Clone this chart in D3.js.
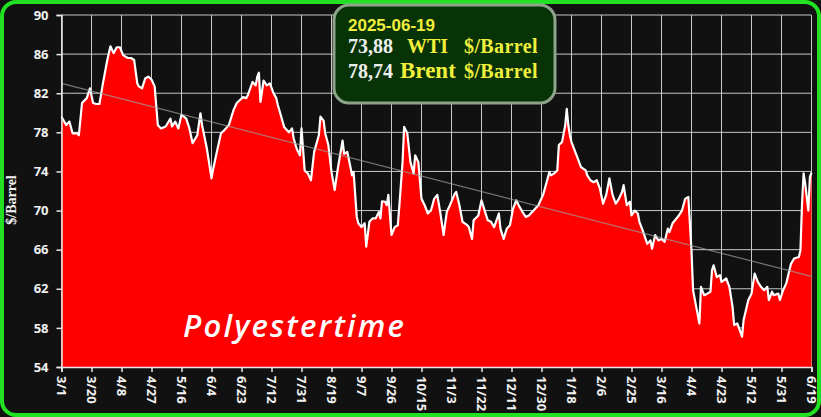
<!DOCTYPE html>
<html>
<head>
<meta charset="utf-8">
<script src="https://cdn.jsdelivr.net/npm/d3@7"></script>
<style>
  body { margin: 0; background: #111; }
  svg { display: block; }
</style>
</head>
<body>
<div id="chart"></div>
<script>
// WTI crude, $/barrel
var dates = [
  "2024-03-01","2024-03-04","2024-03-06","2024-03-08","2024-03-11","2024-03-12","2024-03-14","2024-03-17","2024-03-19","2024-03-21",
  "2024-03-23","2024-03-25","2024-03-26","2024-03-27","2024-03-30","2024-04-01","2024-04-03","2024-04-05","2024-04-07","2024-04-09",
  "2024-04-10","2024-04-12","2024-04-14","2024-04-16","2024-04-18","2024-04-19","2024-04-21","2024-04-23","2024-04-25","2024-04-27",
  "2024-04-29","2024-05-01","2024-05-03","2024-05-06","2024-05-09","2024-05-10","2024-05-12","2024-05-14","2024-05-16","2024-05-19",
  "2024-05-21","2024-05-23","2024-05-26","2024-05-28","2024-05-29","2024-06-01","2024-06-04","2024-06-05","2024-06-07","2024-06-10",
  "2024-06-12","2024-06-15","2024-06-18","2024-06-20","2024-06-22","2024-06-24","2024-06-26","2024-06-27","2024-06-30","2024-07-02",
  "2024-07-03","2024-07-04","2024-07-05","2024-07-07","2024-07-09","2024-07-11","2024-07-13","2024-07-15","2024-07-16","2024-07-18",
  "2024-07-20","2024-07-23","2024-07-25","2024-07-26","2024-07-28","2024-07-30","2024-07-31","2024-08-02","2024-08-04","2024-08-06",
  "2024-08-08","2024-08-11","2024-08-12","2024-08-14","2024-08-15","2024-08-17","2024-08-19","2024-08-21","2024-08-23","2024-08-26",
  "2024-08-27","2024-08-29","2024-08-31","2024-09-01","2024-09-02","2024-09-04","2024-09-05","2024-09-07","2024-09-09","2024-09-10",
  "2024-09-12","2024-09-14","2024-09-16","2024-09-18","2024-09-19","2024-09-20","2024-09-22","2024-09-23","2024-09-24","2024-09-26",
  "2024-09-28","2024-09-30","2024-10-01","2024-10-03","2024-10-04","2024-10-06","2024-10-08","2024-10-10","2024-10-11","2024-10-13",
  "2024-10-15","2024-10-17","2024-10-19","2024-10-21","2024-10-23","2024-10-25","2024-10-27","2024-10-29","2024-10-31","2024-11-02",
  "2024-11-05","2024-11-06","2024-11-08","2024-11-10","2024-11-13","2024-11-14","2024-11-16","2024-11-17","2024-11-20","2024-11-22",
  "2024-11-24","2024-11-26","2024-11-28","2024-11-30","2024-12-03","2024-12-04","2024-12-06","2024-12-08","2024-12-10","2024-12-12",
  "2024-12-14","2024-12-16","2024-12-18","2024-12-20","2024-12-22","2024-12-25","2024-12-28","2024-12-31","2025-01-02","2025-01-04",
  "2025-01-05","2025-01-07","2025-01-09","2025-01-10","2025-01-12","2025-01-14","2025-01-15","2025-01-16","2025-01-17","2025-01-18",
  "2025-01-20","2025-01-22","2025-01-24","2025-01-27","2025-01-28","2025-01-30","2025-02-01","2025-02-03","2025-02-05","2025-02-07",
  "2025-02-09","2025-02-11","2025-02-13","2025-02-15","2025-02-17","2025-02-19","2025-02-20","2025-02-22","2025-02-24","2025-02-25",
  "2025-02-27","2025-03-01","2025-03-02","2025-03-04","2025-03-07","2025-03-09","2025-03-10","2025-03-12","2025-03-14","2025-03-16",
  "2025-03-18","2025-03-20","2025-03-21","2025-03-23","2025-03-27","2025-03-29","2025-03-31","2025-04-02","2025-04-04","2025-04-05",
  "2025-04-07","2025-04-09","2025-04-10","2025-04-12","2025-04-14","2025-04-16","2025-04-17","2025-04-18","2025-04-20","2025-04-22",
  "2025-04-23","2025-04-26","2025-04-28","2025-04-30","2025-05-01","2025-05-03","2025-05-05","2025-05-06","2025-05-07","2025-05-10",
  "2025-05-12","2025-05-14","2025-05-16","2025-05-18","2025-05-20","2025-05-22","2025-05-23","2025-05-25","2025-05-26","2025-05-29",
  "2025-05-30","2025-06-01","2025-06-03","2025-06-04","2025-06-06","2025-06-08","2025-06-11","2025-06-12","2025-06-13","2025-06-14",
  "2025-06-15","2025-06-17","2025-06-18","2025-06-19"
];
var wti = [
  79.6,78.75,79.1,77.9,77.9,77.7,81.0,81.5,82.5,81.0,
  80.9,80.9,81.8,82.8,85.4,86.8,86.1,86.7,86.7,85.9,
  85.8,85.6,85.6,85.4,83.0,82.7,82.5,83.5,83.7,83.4,
  82.7,78.75,78.4,78.6,79.4,78.6,79.1,78.4,79.8,79.4,
  78.4,76.9,77.7,79.95,78.75,76.4,73.3,74.2,75.7,77.9,
  78.2,78.75,80.3,81.0,81.3,81.6,81.5,81.8,83.15,82.8,
  83.7,84.1,81.1,83.3,82.8,83.0,82.1,81.5,80.8,79.7,
  78.55,78.0,78.4,77.4,76.3,75.65,78.4,74.1,73.8,73.1,
  76.0,77.7,79.6,79.2,77.9,76.7,73.95,72.1,74.3,77.15,
  75.8,76.0,74.45,73.6,73.95,69.35,68.7,68.3,68.7,66.3,
  68.85,69.2,69.2,69.85,69.2,70.95,70.9,70.55,71.6,67.5,
  68.3,68.5,70.55,74.95,78.55,77.9,74.95,73.8,75.65,74.95,
  71.2,70.55,69.7,70.0,71.2,71.6,69.7,67.5,69.85,70.55,
  71.7,71.9,70.55,68.85,68.5,68.3,67.1,69.0,69.5,71.05,
  70.0,69.0,68.85,68.3,69.7,68.15,67.1,68.15,68.5,70.2,
  71.05,70.4,69.85,69.35,69.5,70.0,70.55,71.6,72.75,73.95,
  73.6,73.8,74.1,76.7,77.0,78.7,80.4,78.7,77.7,77.0,
  76.15,75.3,74.45,74.1,73.6,73.1,72.9,73.1,72.25,70.7,
  71.6,73.3,71.6,70.7,71.2,71.9,72.6,70.55,70.9,69.5,
  70.0,69.7,68.85,68.0,66.6,66.95,66.1,67.5,66.95,67.1,
  66.8,68.15,67.8,68.7,69.5,70.0,71.2,71.4,65.9,61.85,
  60.15,58.45,62.2,61.35,61.5,61.7,63.9,64.4,63.2,63.4,
  62.7,63.05,62.2,60.15,58.3,58.45,57.6,57.1,58.8,60.85,
  61.5,63.55,62.7,62.2,61.85,62.2,60.85,61.7,61.35,61.5,
  60.85,61.85,62.55,63.2,64.55,65.1,65.25,65.95,70.7,73.8,
  72.75,70.0,73.45,73.88
];
var yTicks = [54, 58, 62, 66, 70, 74, 78, 82, 86, 90];
var xTickDates = [
  "2024-03-01","2024-03-20","2024-04-08","2024-04-27","2024-05-16","2024-06-04","2024-06-23","2024-07-12","2024-07-31",
  "2024-08-19","2024-09-07","2024-09-26","2024-10-15","2024-11-03","2024-11-22","2024-12-11","2024-12-30","2025-01-18",
  "2025-02-06","2025-02-25","2025-03-16","2025-04-04","2025-04-23","2025-05-12","2025-05-31","2025-06-19"
];
var legendDate = "2025-06-19";
var legendRows = [
  { value: "73,88", name: "WTI", unit: "$/Barrel" },
  { value: "78,74", name: "Brent", unit: "$/Barrel" }
];

var W = 821, H = 417;
var margin = { left: 61.5, right: 9.5, top: 15, bottom: 50 };

var parse = d3.utcParse("%Y-%m-%d");
var data = dates.map(function (d, i) { return { date: parse(d), v: wti[i] }; });
var tickDates = xTickDates.map(parse);

var x = d3.scaleUtc()
  .domain([parse(xTickDates[0]), parse(xTickDates[xTickDates.length - 1])])
  .range([margin.left, W - margin.right]);
var y = d3.scaleLinear()
  .domain([54, 90])
  .range([H - margin.bottom, margin.top]);

var svg = d3.select("#chart").append("svg")
  .attr("width", W)
  .attr("height", H);

// background + green frame
svg.append("rect")
  .attr("x", 2).attr("y", 2)
  .attr("width", W - 4).attr("height", H - 4)
  .attr("rx", 14)
  .style("fill", "#111")
  .style("stroke", "#22e022")
  .style("stroke-width", 4);

// grid
var grid = svg.append("g").attr("class", "grid");
grid.selectAll(".hgrid")
  .data(yTicks)
  .enter().append("line")
  .attr("x1", x.range()[0]).attr("x2", x.range()[1])
  .attr("y1", function (d) { return y(d); })
  .attr("y2", function (d) { return y(d); })
  .style("stroke", "#c8c8c8")
  .style("stroke-width", 1);
grid.selectAll(".vgrid")
  .data(tickDates)
  .enter().append("line")
  .attr("x1", function (d) { return x(d); })
  .attr("x2", function (d) { return x(d); })
  .attr("y1", y.range()[0]).attr("y2", y.range()[1])
  .style("stroke", "#c8c8c8")
  .style("stroke-width", 1);

// red area + white line
var area = d3.area()
  .x(function (d) { return x(d.date); })
  .y0(y(54))
  .y1(function (d) { return y(d.v); });
var line = d3.line()
  .x(function (d) { return x(d.date); })
  .y(function (d) { return y(d.v); });

svg.append("path")
  .datum(data)
  .attr("d", area)
  .style("fill", "#ff0000");
svg.append("path")
  .datum(data)
  .attr("d", line)
  .style("fill", "none")
  .style("stroke", "#ffffff")
  .style("stroke-width", 2.2)
  .style("stroke-linejoin", "round");

// linear trend over the series
var t0 = data[0].date.getTime();
var xs = data.map(function (d) { return (d.date.getTime() - t0) / 864e5; });
var mx = d3.mean(xs), my = d3.mean(wti);
var sxy = 0, sxx = 0;
xs.forEach(function (xv, i) { sxy += (xv - mx) * (wti[i] - my); sxx += (xv - mx) * (xv - mx); });
var slope = sxy / sxx, icpt = my - slope * mx;
var d0 = x.domain()[0], d1 = x.domain()[1];
var span = (d1.getTime() - t0) / 864e5;
svg.append("line")
  .attr("x1", x(d0)).attr("y1", y(icpt))
  .attr("x2", x(d1)).attr("y2", y(icpt + slope * span))
  .style("stroke", "#a0a0a0")
  .style("stroke-width", 1.2)
  .style("opacity", 0.7);

// axes
var yAxis = svg.append("g")
  .attr("transform", "translate(" + margin.left + ",0)")
  .call(d3.axisLeft(y).tickValues(yTicks).tickSize(5).tickPadding(8));
var xAxis = svg.append("g")
  .attr("transform", "translate(0," + y(54) + ")")
  .call(d3.axisBottom(x).tickValues(tickDates).tickFormat(d3.utcFormat("%-m/%-d")).tickSize(5));

[yAxis, xAxis].forEach(function (g) {
  g.select(".domain").style("stroke", "#e8e8e8").style("stroke-width", 1.5);
  g.selectAll(".tick line").style("stroke", "#e8e8e8").style("stroke-width", 1.5);
  g.selectAll("text")
    .style("fill", "#f2f2f2")
    .style("font-family", "'Open Sans', sans-serif")
    .style("font-weight", "bold")
    .style("font-size", "13px");
});
xAxis.selectAll(".tick text")
  .attr("y", 0)
  .attr("x", 9)
  .attr("dy", ".35em")
  .attr("transform", "rotate(90)")
  .style("text-anchor", "start");

// y title
svg.append("text")
  .attr("transform", "translate(16,200) rotate(-90)")
  .style("text-anchor", "middle")
  .style("fill", "#f2f2f2")
  .style("font-family", "'Liberation Serif', serif")
  .style("font-weight", "bold")
  .style("font-size", "14px")
  .text("$/Barrel");

// watermark
svg.append("text")
  .attr("x", 183).attr("y", 337)
  .style("fill", "#ffffff")
  .style("font-family", "'Open Sans', sans-serif")
  .style("font-style", "italic")
  .style("font-weight", "600")
  .style("font-size", "31px")
  .style("letter-spacing", "2.2px")
  .text("Polyestertime");

// legend box
var lg = svg.append("g").attr("transform", "translate(334,5)");
lg.append("rect")
  .attr("width", 221).attr("height", 98)
  .attr("rx", 15)
  .style("fill", "#073307")
  .style("stroke", "#8ea48a")
  .style("stroke-width", 3);
lg.append("text")
  .attr("x", 14).attr("y", 26)
  .style("fill", "#f0f03c")
  .style("font-family", "'Liberation Sans', Arial, sans-serif")
  .style("font-weight", "bold")
  .style("font-size", "17px")
  .text(legendDate);
var rows = lg.selectAll(".legendRow")
  .data(legendRows)
  .enter().append("g")
  .attr("class", "legendRow")
  .attr("transform", function (d, i) { return "translate(14," + (48 + i * 25) + ")"; })
  .style("font-family", "'Liberation Serif', 'Times New Roman', serif")
  .style("font-weight", "bold");
rows.append("text")
  .style("fill", "#eeeeee")
  .style("font-size", "20px")
  .text(function (d) { return d.value; });
rows.append("text")
  .attr("x", function (d, i) { return i === 0 ? 59 : 52; })
  .style("fill", "#f0f03c")
  .style("font-size", function (d, i) { return i === 0 ? "20px" : "23px"; })
  .text(function (d) { return d.name; });
rows.append("text")
  .attr("x", 116)
  .style("fill", "#f0f03c")
  .style("font-size", "20px")
  .style("letter-spacing", "0.4px")
  .text(function (d) { return d.unit; });
</script>
</body>
</html>
